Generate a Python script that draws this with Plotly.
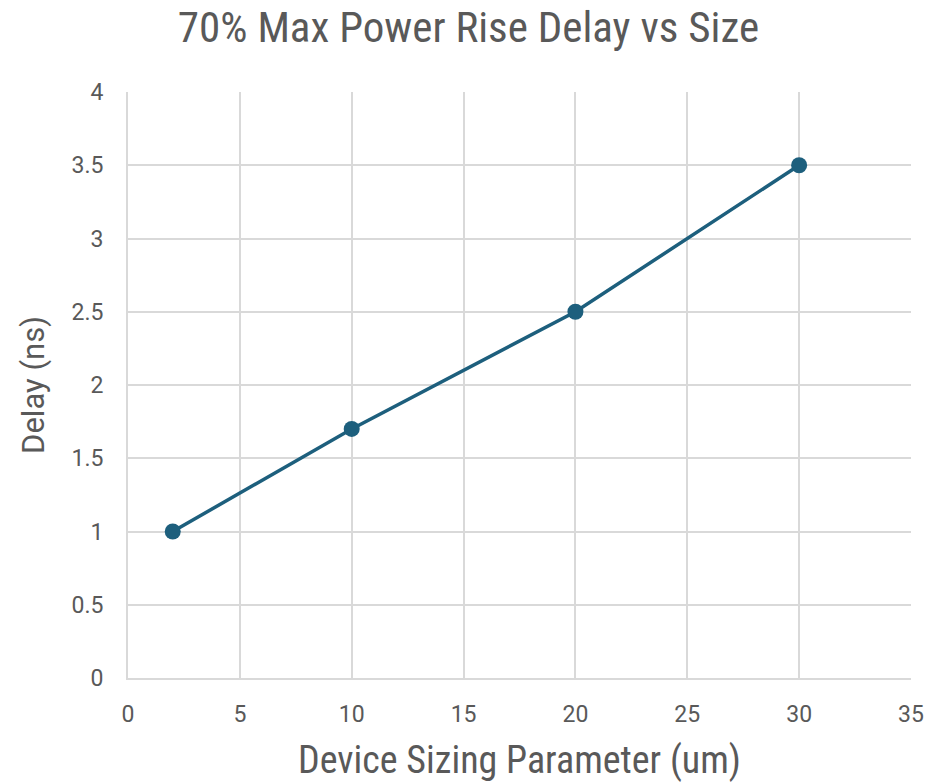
import plotly.graph_objects as go

sizes = [2, 10, 20, 30]
delays = [1.0, 1.7, 2.5, 3.5]

narrow = "Liberation Sans Narrow, Roboto Condensed, sans-serif"
normal = "Roboto, Open Sans, sans-serif"
text_color = "#595959"
grid_color = "#d9d9d9"

fig = go.Figure()
fig.add_trace(go.Scatter(
    x=sizes, y=delays, mode="lines+markers",
    line=dict(color="#1d5f7d", width=3.5),
    marker=dict(color="#1d5f7d", size=16),
    showlegend=False,
))

fig.update_layout(
    width=937, height=782,
    margin=dict(l=128, r=26, t=92, b=104),
    paper_bgcolor="white", plot_bgcolor="white",
    font=dict(family=normal, color=text_color, size=23),
    title=dict(text="70% Max Power Rise Delay vs Size", x=0.5, xanchor="center",
               y=0.965, yanchor="middle",
               font=dict(size=43, color=text_color, family=narrow)),
)
fig.update_xaxes(
    range=[0, 35], dtick=5, tick0=0, automargin=False,
    showgrid=True, gridcolor=grid_color, gridwidth=2,
    showline=True, linecolor=grid_color, linewidth=2, mirror=False,
    zeroline=False, ticks="", ticklabelstandoff=14,
    title=dict(text="Device Sizing Parameter (um)", font=dict(size=38, family=narrow), standoff=24),
)
fig.update_yaxes(
    range=[0, 4], dtick=0.5, tick0=0, automargin=False,
    showgrid=True, gridcolor=grid_color, gridwidth=2,
    showline=True, linecolor=grid_color, linewidth=2,
    zeroline=False, ticks="", ticklabelstandoff=18,
    title=dict(text="Delay (ns)", font=dict(size=31, family=normal), standoff=18),
)

fig.write_html("out.html")
